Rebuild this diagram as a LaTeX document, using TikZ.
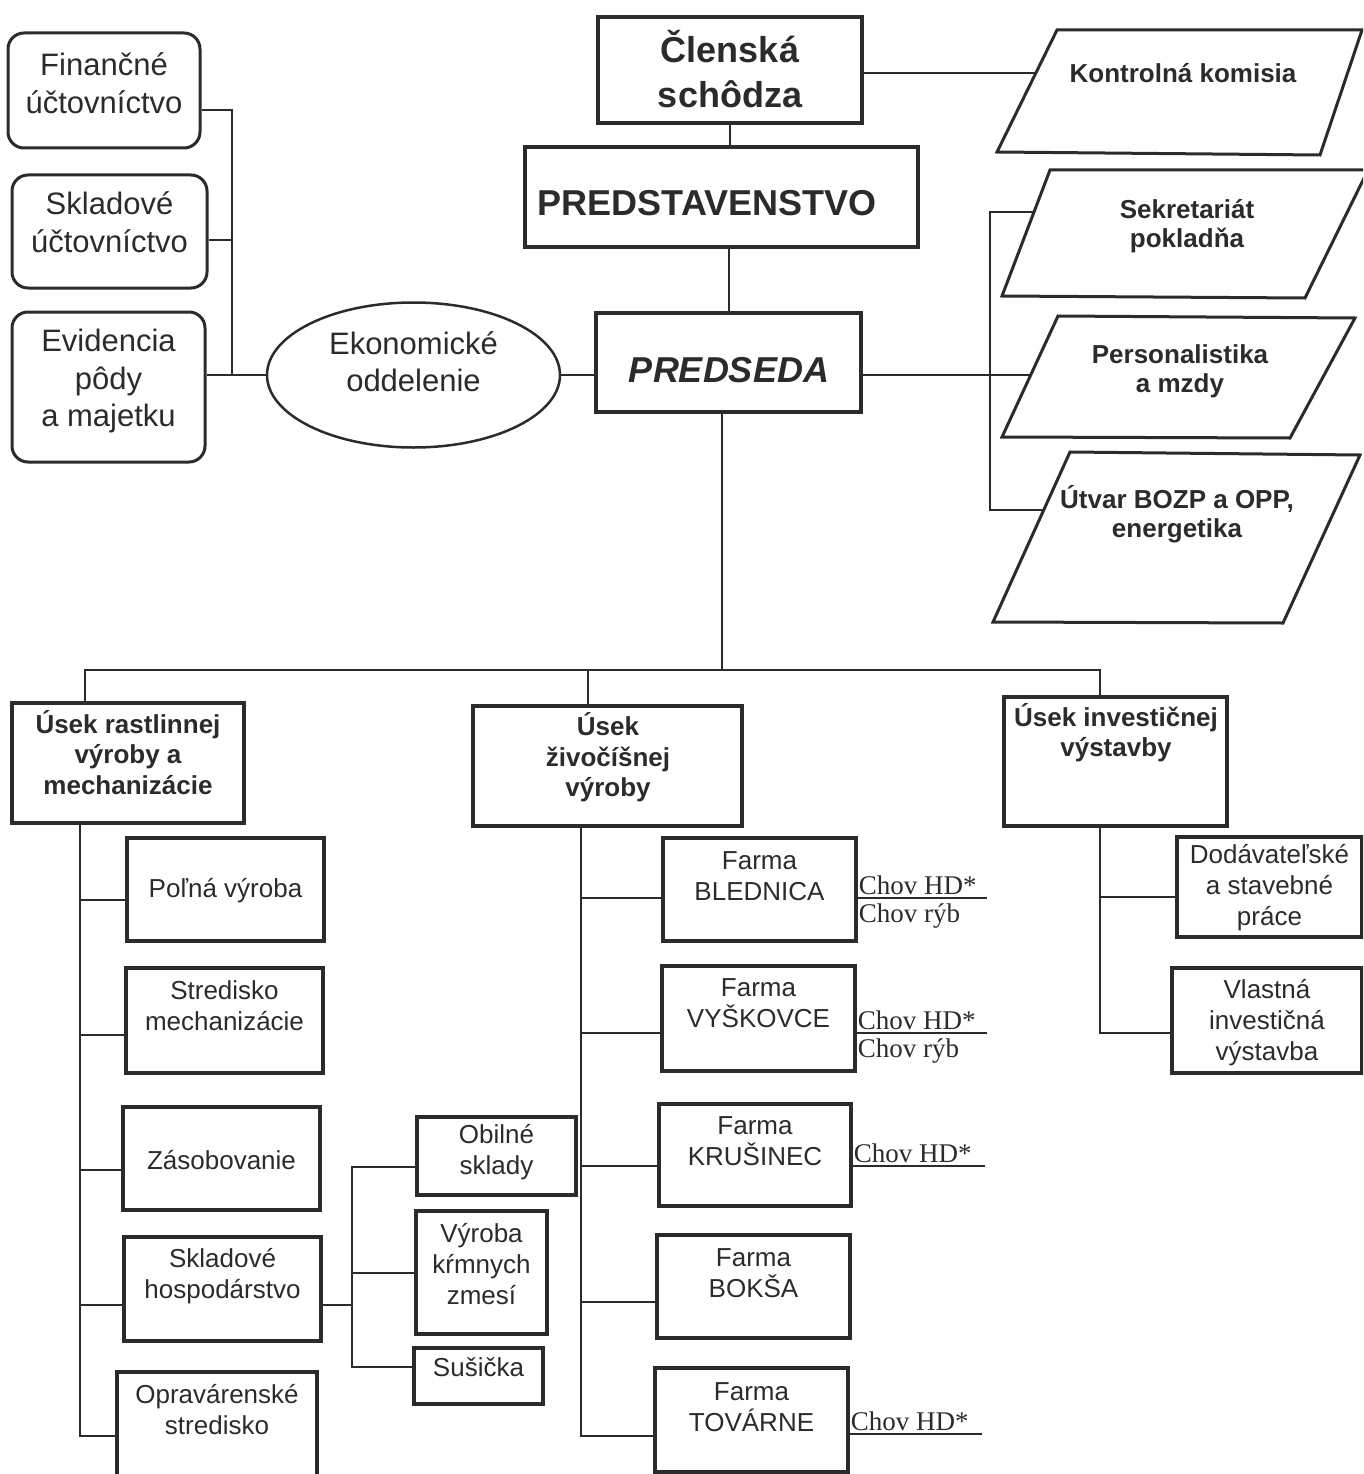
\documentclass[tikz,border=0pt]{standalone}
\usepackage{fontspec}
\setmainfont{Liberation Sans}
\newfontfamily\chovfont{Liberation Serif}
\usetikzlibrary{shapes.geometric}
\definecolor{ink}{HTML}{2B2B2B}
\tikzset{
  box/.style={draw=ink, line width=3.5pt, rectangle, inner sep=0pt},
  rbox/.style={box, line width=3pt, rounded corners=16pt},
  para/.style={draw=ink, line width=3pt, line join=miter},
  link/.style={draw=ink, line width=2pt},
  txt/.style={align=center, text=ink, inner sep=0pt, font=\fontsize{26}{31}\selectfont},
  ltxt/.style={txt, font=\fontsize{31}{37.5}\selectfont},
  htxt/.style={txt, font=\fontsize{36}{45}\selectfont\bfseries},
  btxt/.style={txt, font=\fontsize{26}{30.5}\selectfont\bfseries},
  ptxt/.style={txt, font=\fontsize{26}{29}\selectfont\bfseries},
  chov/.style={text=ink, inner xsep=1pt, inner ysep=3pt, font=\chovfont\fontsize{27}{29}\selectfont}
}
\begin{document}
\begin{tikzpicture}[x=1pt, y=-1pt]
\useasboundingbox (0,0) rectangle (1363,1474);
\clip (0,0) rectangle (1363,1474);
% top
\node[box, minimum width=264pt, minimum height=106pt] (clen) at (730,70) {};
\node[htxt] (clen-t) at (730,69.5) {Členská\\schôdza};
\node[box, minimum width=393pt, minimum height=100pt] (pstv) at (721.5,197) {};
\node[htxt] (pstv-t) at (707,203) {PREDSTAVENSTVO};
\node[box, minimum width=265pt, minimum height=99pt] (pred) at (728.5,362.5) {};
\node[htxt, font=\fontsize{36}{45}\selectfont\bfseries\itshape] (pred-t) at (729,370) {PREDSEDA};
\draw[link] (clen.south) -- (clen.south |- pstv.north);
\draw[link] (pred.north |- pstv.south) -- (pred.north);
% ekonomicke oddelenie
\node[rbox, minimum width=192pt, minimum height=115pt] (fin) at (104,90.5) {};
\node[ltxt] (fin-t) at (104,83) {Finančné\\účtovníctvo};
\node[rbox, minimum width=195pt, minimum height=113pt] (sklu) at (109.5,231.5) {};
\node[ltxt] (sklu-t) at (109.5,222) {Skladové\\účtovníctvo};
\node[rbox, minimum width=193pt, minimum height=150pt] (evid) at (108.5,387) {};
\node[ltxt] (evid-t) at (108.5,381) {Evidencia\\pôdy\\a majetku};
\node[ellipse, draw=ink, line width=2.5pt, minimum width=293pt, minimum height=145pt, inner sep=0pt] (ekon) at (413.5,375) {};
\node[ltxt] (ekon-t) at (413.5,361.5) {Ekonomické\\oddelenie};
\coordinate (ekbus) at (232,375);
\draw[link] ([yshift=-19.5pt]fin.east) -| (ekbus);
\draw[link] ([yshift=-8.5pt]sklu.east) -| (ekbus);
\draw[link] ([yshift=12pt]evid.east) -- (ekon.west);
\draw[link] (ekon.east) -- (ekon.east -| pred.west);
% staff
\draw[para] (1057,30) -- (1362,30) -- (1320,155) -- (997,152) -- cycle;
\node[ptxt] (kont) at (1183,73) {Kontrolná komisia};
\draw[para] (1050,170) -- (1368,170) -- (1305,298) -- (1002,296) -- cycle;
\node[ptxt] (sekr) at (1187,226) {Sekretariát\\pokladňa};
\draw[para] (1058,316) -- (1355,318) -- (1290,438) -- (1002,437) -- cycle;
\node[ptxt] (pers) at (1180,371.5) {Personalistika\\a mzdy};
\draw[para] (1070,452) -- (1360,455) -- (1283,623) -- (993,622) -- cycle;
\node[ptxt] (utv) at (1177,514) {Útvar BOZP a OPP,\\energetika};
\coordinate (kont-l) at (1036,73);
\coordinate (sekr-l) at (1034,212);
\coordinate (pers-l) at (1031,375);
\coordinate (utv-l) at (1044,510);
\coordinate (rbus) at (990,375);
\draw[link] (clen.east |- kont-l) -- (kont-l);
\draw[link] (pred.east |- pers-l) -- (pers-l);
\draw[link] (sekr-l) -| (rbus) |- (utv-l);
% useky
\node[box, minimum width=232pt, minimum height=120pt] (ur) at (128,763) {};
\node[btxt] (ur-t) at (128,752.5) {Úsek rastlinnej\\výroby a\\mechanizácie};
\node[box, minimum width=269pt, minimum height=120pt] (uz) at (607.5,766) {};
\node[btxt] (uz-t) at (608,757.5) {Úsek\\živočíšnej\\výroby};
\node[box, minimum width=223pt, minimum height=129pt] (ui) at (1115.5,761.5) {};
\node[btxt] (ui-t) at (1116,732.5) {Úsek investičnej\\výstavby};
\coordinate (bus) at (722,670);
\coordinate (ur-in) at ([xshift=-43pt]ur.north);
\coordinate (uz-in) at ([xshift=-19.5pt]uz.north);
\coordinate (ui-in) at ([xshift=-15.5pt]ui.north);
\draw[link] ([xshift=-6.5pt]pred.south) -- (bus);
\draw[link] (ur-in) |- (bus) -| (ui-in);
\draw[link] (uz-in) -- (uz-in |- bus);
% rastlinna vyroba
\node[box, minimum width=197pt, minimum height=103pt] (poln) at (225.5,889.5) {};
\node[txt] (poln-t) at (225.5,891) {Poľná výroba};
\node[box, minimum width=197pt, minimum height=105pt] (stred) at (224.5,1020.5) {};
\node[txt] (stred-t) at (224.5,1006) {Stredisko\\mechanizácie};
\node[box, minimum width=197pt, minimum height=103pt] (zas) at (221.5,1158.5) {};
\node[txt] (zas-t) at (221.5,1160) {Zásobovanie};
\node[box, minimum width=197pt, minimum height=104pt] (sklh) at (222.5,1289) {};
\node[txt] (sklh-t) at (222.5,1276.5) {Skladové\\hospodárstvo};
\node[box, minimum width=200pt, minimum height=108pt] (oprav) at (217,1426) {};
\node[txt] (oprav-t) at (217,1410) {Opravárenské\\stredisko};
\coordinate (ur-t0) at ([xshift=-48pt]ur.south);
\foreach \n/\d in {poln/10.5, stred/14.5, zas/11.5, sklh/16, oprav/10}
  \draw[link] (ur-t0) |- ([yshift=-\d pt]\n.west);
\node[box, minimum width=159pt, minimum height=78pt] (obil) at (496.5,1156) {};
\node[txt] (obil-t) at (496.5,1152.5) {Obilné\\sklady};
\node[box, minimum width=131pt, minimum height=123pt] (vyrk) at (481.5,1272.5) {};
\node[txt] (vyrk-t) at (481.5,1264.5) {Výroba\\kŕmnych\\zmesí};
\node[box, minimum width=129pt, minimum height=56pt] (sus) at (478.5,1376) {};
\node[txt] (sus-t) at (478.5,1367) {Sušička};
\draw[link] ([yshift=-16pt]sklh.east) -- ++(29,0) coordinate (sk-t0);
\foreach \n/\d in {obil/-11, vyrk/0, sus/9}
  \draw[link] (sk-t0) |- ([yshift=\d pt]\n.west);
% zivocisna vyroba
\node[box, minimum width=193pt, minimum height=103pt] (bled) at (759.5,889.5) {};
\node[txt] (bled-t) at (759.5,876) {Farma\\BLEDNICA};
\node[box, minimum width=193pt, minimum height=105pt] (vys) at (758.5,1018.5) {};
\node[txt] (vys-t) at (758.5,1003) {Farma\\VYŠKOVCE};
\node[box, minimum width=192pt, minimum height=102pt] (krus) at (755,1155) {};
\node[txt] (krus-t) at (755,1141) {Farma\\KRUŠINEC};
\node[box, minimum width=193pt, minimum height=103pt] (boks) at (753.5,1286.5) {};
\node[txt] (boks-t) at (753.5,1273) {Farma\\BOKŠA};
\node[box, minimum width=193pt, minimum height=104pt] (tov) at (751.5,1420) {};
\node[txt] (tov-t) at (751.5,1407) {Farma\\TOVÁRNE};
\coordinate (uz-t0) at ([xshift=-26.5pt]uz.south);
\foreach \n/\d in {bled/8.5, vys/14.5, krus/11, boks/15.5, tov/16}
  \draw[link] (uz-t0) |- ([yshift=-\d pt]\n.west);
\foreach \n/\d/\l in {bled/8.5/129, vys/14.5/130, krus/11/132, tov/14/132} {
  \coordinate (\n-c) at ([yshift=-\d pt]\n.east);
  \draw[link] (\n-c) -- ++(\l,0) coordinate (\n-e);
  \node[chov, anchor=south west] (\n-hd) at (\n-c) {Chov HD*};
}
\node[chov, anchor=north west, inner ysep=6pt] (bled-ryb) at (bled-c) {Chov rýb};
\node[chov, anchor=north west, inner ysep=6pt] (vys-ryb) at (vys-c) {Chov rýb};
% investicna vystavba
\node[box, minimum width=185pt, minimum height=100pt] (dod) at (1269.5,887) {};
\node[txt] (dod-t) at (1269.5,888) {Dodávateľské\\a stavebné\\práce};
\node[box, minimum width=190pt, minimum height=105pt] (vlas) at (1267,1020.5) {};
\node[txt] (vlas-t) at (1267,1022.5) {Vlastná\\investičná\\výstavba};
\coordinate (ui-t0) at ([xshift=-15.5pt]ui.south);
\foreach \n/\d in {dod/10, vlas/12.5}
  \draw[link] (ui-t0) |- ([yshift=-\d pt]\n.west);
\end{tikzpicture}
\end{document}
